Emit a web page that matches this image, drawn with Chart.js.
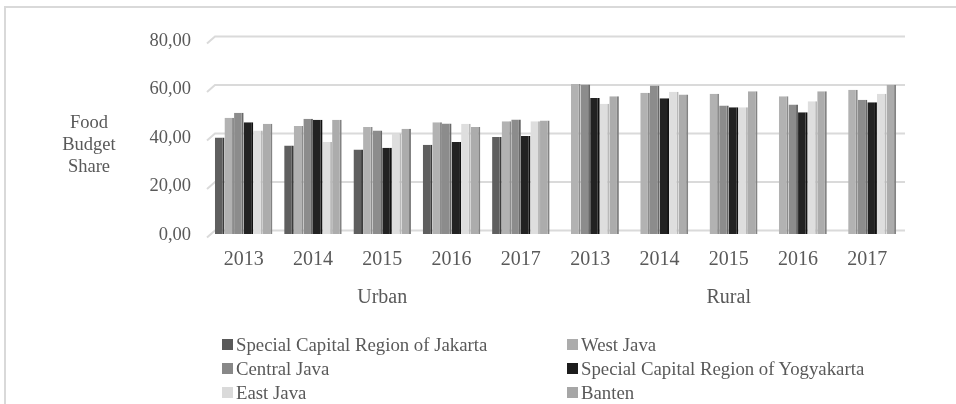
<!DOCTYPE html>
<html>
<head>
<meta charset="utf-8">
<script src="https://cdn.jsdelivr.net/npm/chart.js@4/dist/chart.umd.min.js"></script>
<style>
  html, body { margin: 0; padding: 0; background: #fff; overflow: hidden; }
  #wrap { position: relative; width: 956px; height: 404px; }
  #frame { position: absolute; left: 4px; top: 6px; width: 1200px; height: 600px;
           border-left: 2px solid #d9d9d9; border-top: 2px solid #d9d9d9; pointer-events: none; }
  canvas { position: absolute; left: 0; top: 0; }
  .lg { position: absolute; font-family: "Liberation Serif", "Times New Roman", serif; font-size: 18.8px;
        color: #595959; white-space: nowrap; line-height: 20px; }
  .sw { position: absolute; width: 11px; height: 11px; }
</style>
</head>
<body>
<div id="wrap">
  <div id="frame"></div>
  <canvas id="c" width="956" height="404"></canvas>
  <div id="legend"></div>
</div>
<script>
// ---- data ----
const categories = ['2013', '2014', '2015', '2016', '2017', '2013', '2014', '2015', '2016', '2017'];
const groupLabels = ['Urban', 'Rural'];
const seriesNames = ['Special Capital Region of Jakarta', 'West Java', 'Central Java',
                     'Special Capital Region of Yogyakarta', 'East Java', 'Banten'];
const jakarta    = [39.8, 36.5, 34.8, 36.8, 40.0, 0, 0, 0, 0, 0];
const westJava   = [47.9, 44.5, 44.1, 46.1, 46.5, 61.9, 58.2, 57.8, 56.8, 59.5];
const centralJava= [50.0, 47.5, 42.7, 45.6, 47.2, 61.6, 61.2, 53.0, 53.4, 55.4];
const yogyakarta = [46.1, 47.1, 35.6, 37.9, 40.4, 56.1, 56.0, 52.3, 50.2, 54.3];
const eastJava   = [42.7, 37.9, 41.4, 45.5, 46.5, 53.7, 58.7, 52.3, 54.7, 57.8];
const banten     = [45.5, 47.1, 43.4, 44.1, 46.8, 56.8, 57.5, 58.9, 58.9, 61.5];
const yTickValues = [0, 20, 40, 60, 80];
const yTitleLines = ['Food', 'Budget', 'Share'];

// ---- styles ----
const faceColors = ['#5f5f5f', '#b2b2b2', '#8c8c8c', '#222222', '#dedede', '#acacac'];
const sideColors = ['#3c3c3c', '#8c8c8c', '#686868', '#111111', '#b9b9b9', '#838383'];
const swatchColors = ['#595959', '#acacac', '#888888', '#1c1c1c', '#dadada', '#a6a6a6'];
const seriesData = [jakarta, westJava, centralJava, yogyakarta, eastJava, banten];
const FONT = '"Liberation Serif", "Times New Roman", serif';
const TXT = '#595959';

const datasets = seriesNames.map((n, i) => ({
  label: n,
  data: seriesData[i],
  backgroundColor: faceColors[i],
  borderColor: sideColors[i],
  borderWidth: { top: 0, right: 2, bottom: 0, left: 0 },
  borderSkipped: false
}));

const gridPlugin = {
  id: 'grid3d',
  beforeDatasetsDraw(chart) {
    const y = chart.scales.y, ca = chart.chartArea, ctx = chart.ctx;
    ctx.save();
    ctx.strokeStyle = '#dadada';
    ctx.lineWidth = 2;
    yTickValues.forEach(v => {
      const back = y.getPixelForValue(v) - 3.5;
      ctx.beginPath();
      ctx.moveTo(ca.left - 2, back + 7);
      ctx.lineTo(ca.left + 6, back);
      ctx.lineTo(ca.right + 3, back);
      ctx.stroke();
    });
    ctx.restore();
  }
};

const textPlugin = {
  id: 'extraText',
  afterDraw(chart) {
    const x = chart.scales.x, ctx = chart.ctx;
    ctx.save();
    ctx.fillStyle = TXT;
    ctx.textAlign = 'center';
    ctx.textBaseline = 'middle';
    ctx.font = '20px ' + FONT;
    const c1 = (x.getPixelForTick(0) + x.getPixelForTick(4)) / 2;
    const c2 = (x.getPixelForTick(5) + x.getPixelForTick(9)) / 2;
    ctx.fillText(groupLabels[0], c1, 298);
    ctx.fillText(groupLabels[1], c2, 298);
    ctx.font = '18.5px ' + FONT;
    yTitleLines.forEach((t, i) => ctx.fillText(t, 89, 123 + i * 22));
    ctx.restore();
  }
};

new Chart(document.getElementById('c'), {
  type: 'bar',
  data: { labels: categories, datasets },
  options: {
    responsive: false,
    animation: false,
    devicePixelRatio: 1,
    layout: { padding: { top: 40, right: 54, bottom: 0, left: 0 } },
    plugins: { legend: { display: false }, tooltip: { enabled: false } },
    datasets: { bar: { categoryPercentage: 0.83, barPercentage: 1.0 } },
    scales: {
      x: {
        grid: { display: false, drawTicks: false },
        border: { display: false },
        ticks: { color: TXT, font: { family: FONT, size: 20 }, padding: 14, maxRotation: 0, autoSkip: false },
        afterFit(s) { s.height = 170; }
      },
      y: {
        min: 0, max: 80,
        afterBuildTicks(s) { s.ticks = yTickValues.map(v => ({ value: v })); },
        grid: { display: false, drawTicks: false },
        border: { display: false },
        ticks: { color: TXT, font: { family: FONT, size: 18.5 }, padding: 18, labelOffset: 1,
                 callback: v => v.toFixed(2).replace('.', ',') },
        afterFit(s) { s.width = 209; }
      }
    }
  },
  plugins: [gridPlugin, textPlugin]
});

// ---- legend (2 columns, row-wise) ----
const lg = document.getElementById('legend');
const colX = [222, 567];
const rowY = [345, 369, 393];
seriesNames.forEach((n, i) => {
  const col = i % 2, row = Math.floor(i / 2);
  const sw = document.createElement('div');
  sw.className = 'sw';
  sw.style.left = colX[col] + 'px';
  sw.style.top = (rowY[row] - 6) + 'px';
  sw.style.background = swatchColors[i];
  lg.appendChild(sw);
  const t = document.createElement('div');
  t.className = 'lg';
  t.textContent = n;
  t.style.left = (colX[col] + 14) + 'px';
  t.style.top = (rowY[row] - 10) + 'px';
  lg.appendChild(t);
});
</script>
</body>
</html>
